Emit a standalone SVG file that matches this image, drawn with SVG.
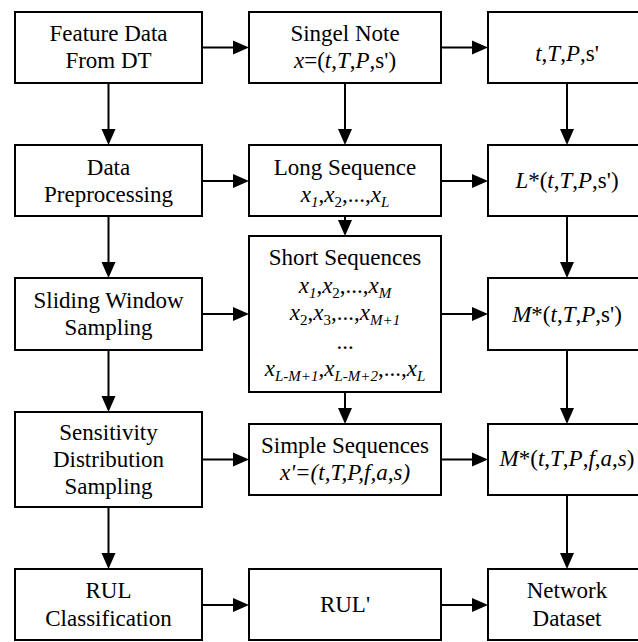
<svg xmlns="http://www.w3.org/2000/svg" width="638" height="642" viewBox="0 0 638 642" font-family="Liberation Serif, serif" font-size="23">
  <style>
    rect { fill: #fff; stroke: #000; stroke-width: 2; }
    .i { font-style: italic; }
    .sub { font-size: 15px; }
    .conn { stroke: #000; stroke-width: 2; }
    .head { fill: #000; }
  </style>
  <rect x="0" y="0" width="638" height="642" style="stroke:none"/>

  <!-- left column -->
  <g id="feature-data" font-family="Liberation Serif" text-anchor="middle">
    <rect x="15" y="12" width="187" height="71"/>
    <text x="108.5" y="41" font-family="Liberation Serif" font-size="23">Feature Data</text>
    <text x="108.5" y="68" font-family="Liberation Serif" font-size="23">From DT</text>
  </g>
  <g id="data-preprocessing" font-family="Liberation Serif" text-anchor="middle">
    <rect x="15" y="145" width="187" height="71"/>
    <text x="108.5" y="175" font-family="Liberation Serif" font-size="23">Data</text>
    <text x="108.5" y="202" font-family="Liberation Serif" font-size="23">Preprocessing</text>
  </g>
  <g id="sliding-window" font-family="Liberation Serif" text-anchor="middle">
    <rect x="15" y="278" width="187" height="72"/>
    <text x="108.5" y="308" font-family="Liberation Serif" font-size="23">Sliding Window</text>
    <text x="108.5" y="335" font-family="Liberation Serif" font-size="23">Sampling</text>
  </g>
  <g id="sensitivity-sampling" font-family="Liberation Serif" text-anchor="middle">
    <rect x="15" y="412" width="187" height="95"/>
    <text x="108.5" y="440" font-family="Liberation Serif" font-size="23">Sensitivity</text>
    <text x="108.5" y="467" font-family="Liberation Serif" font-size="23">Distribution</text>
    <text x="108.5" y="494" font-family="Liberation Serif" font-size="23">Sampling</text>
  </g>
  <g id="rul-classification" font-family="Liberation Serif" text-anchor="middle">
    <rect x="15" y="569" width="187" height="71"/>
    <text x="108.5" y="598" font-family="Liberation Serif" font-size="23">RUL</text>
    <text x="108.5" y="626" font-family="Liberation Serif" font-size="23">Classification</text>
  </g>

  <!-- middle column -->
  <g id="single-note" font-family="Liberation Serif" text-anchor="middle">
    <rect x="249" y="12" width="192" height="71"/>
    <text x="345" y="41" font-family="Liberation Serif" font-size="23">Singel Note</text>
    <text x="345" y="68" font-family="Liberation Serif" font-size="23"><tspan class="i">x</tspan>=(<tspan class="i">t</tspan>,<tspan class="i">T</tspan>,<tspan class="i">P</tspan>,s')</text>
  </g>
  <g id="long-sequence" font-family="Liberation Serif" text-anchor="middle">
    <rect x="249" y="145" width="192" height="71"/>
    <text x="345" y="175" font-family="Liberation Serif" font-size="23">Long Sequence</text>
    <text x="345" y="202" font-family="Liberation Serif" font-size="23"><tspan class="i">x</tspan><tspan class="i sub" dy="5">1</tspan><tspan dy="-5">,</tspan><tspan class="i">x</tspan><tspan class="sub" dy="5">2</tspan><tspan dy="-5">,...,</tspan><tspan class="i">x</tspan><tspan class="i sub" dy="5">L</tspan></text>
  </g>
  <g id="short-sequences" font-family="Liberation Serif" text-anchor="middle">
    <rect x="249" y="236" width="192" height="156"/>
    <text x="345" y="265" font-family="Liberation Serif" font-size="23">Short Sequences</text>
    <text x="345" y="293" font-family="Liberation Serif" font-size="23"><tspan class="i">x</tspan><tspan class="i sub" dy="5">1</tspan><tspan dy="-5">,</tspan><tspan class="i">x</tspan><tspan class="sub" dy="5">2</tspan><tspan dy="-5">,...,</tspan><tspan class="i">x</tspan><tspan class="i sub" dy="5">M</tspan></text>
    <text x="345" y="320" font-family="Liberation Serif" font-size="23"><tspan class="i">x</tspan><tspan class="sub" dy="5">2</tspan><tspan dy="-5">,</tspan><tspan class="i">x</tspan><tspan class="sub" dy="5">3</tspan><tspan dy="-5">,...,</tspan><tspan class="i">x</tspan><tspan class="i sub" dy="5">M+1</tspan></text>
    <text x="345" y="349" font-family="Liberation Serif" font-size="23">...</text>
    <text x="345" y="376" font-family="Liberation Serif" font-size="23"><tspan class="i">x</tspan><tspan class="i sub" dy="5">L-M+1</tspan><tspan dy="-5">,</tspan><tspan class="i">x</tspan><tspan class="i sub" dy="5">L-M+2</tspan><tspan dy="-5">,...,</tspan><tspan class="i">x</tspan><tspan class="i sub" dy="5">L</tspan></text>
  </g>
  <g id="simple-sequences" font-family="Liberation Serif" text-anchor="middle">
    <rect x="249" y="424" width="192" height="71"/>
    <text x="345" y="453" font-family="Liberation Serif" font-size="23">Simple Sequences</text>
    <text x="345" y="480" class="i" font-family="Liberation Serif" font-size="23">x'=(t,T,P,f,a,s)</text>
  </g>
  <g id="rul-prime" font-family="Liberation Serif" text-anchor="middle">
    <rect x="249" y="569" width="192" height="71"/>
    <text x="345" y="612" font-family="Liberation Serif" font-size="23">RUL'</text>
  </g>

  <!-- right column, running past the right edge -->
  <g id="note-fields" font-family="Liberation Serif" text-anchor="middle">
    <rect x="488" y="12" width="160" height="71"/>
    <text x="567" y="61" font-family="Liberation Serif" font-size="23"><tspan class="i">t</tspan>,<tspan class="i">T</tspan>,<tspan class="i">P</tspan>,s'</text>
  </g>
  <g id="long-fields" font-family="Liberation Serif" text-anchor="middle">
    <rect x="488" y="145" width="160" height="71"/>
    <text x="567" y="188" font-family="Liberation Serif" font-size="23"><tspan class="i">L</tspan>*(<tspan class="i">t</tspan>,<tspan class="i">T</tspan>,<tspan class="i">P</tspan>,s')</text>
  </g>
  <g id="short-fields" font-family="Liberation Serif" text-anchor="middle">
    <rect x="488" y="278" width="160" height="72"/>
    <text x="567" y="322" font-family="Liberation Serif" font-size="23"><tspan class="i">M</tspan>*(<tspan class="i">t</tspan>,<tspan class="i">T</tspan>,<tspan class="i">P</tspan>,s')</text>
  </g>
  <g id="simple-fields" font-family="Liberation Serif" text-anchor="middle">
    <rect x="488" y="424" width="160" height="71"/>
    <text x="567" y="466" font-family="Liberation Serif" font-size="23"><tspan class="i">M</tspan>*(<tspan class="i">t</tspan>,<tspan class="i">T</tspan>,<tspan class="i">P</tspan>,<tspan class="i">f</tspan>,<tspan class="i">a</tspan>,<tspan class="i">s</tspan>)</text>
  </g>
  <g id="network-dataset" font-family="Liberation Serif" text-anchor="middle">
    <rect x="488" y="569" width="160" height="71"/>
    <text x="567" y="598" font-family="Liberation Serif" font-size="23">Network</text>
    <text x="567" y="626" font-family="Liberation Serif" font-size="23">Dataset</text>
  </g>

  <!-- connectors: shafts plus filled triangular heads -->
  <g id="connectors">
    <path class="conn" d="M202,47.5H234 M202,181H234 M202,314H234 M202,459.5H234 M202,605H234
                          M441,47.5H473 M441,181H473 M441,314H473 M441,459.5H473 M441,605H473
                          M108.5,83V130 M108.5,216V263 M108.5,350V397 M108.5,507V554
                          M345,83V130 M345,216V221 M345,392V409
                          M567,83V130 M567,216V263 M567,350V409 M567,495V554"/>
    <path class="head" d="M249,47.5l-16,-7v14z M249,181l-16,-7v14z M249,314l-16,-7v14z M249,459.5l-16,-7v14z M249,605l-16,-7v14z
                          M488,47.5l-16,-7v14z M488,181l-16,-7v14z M488,314l-16,-7v14z M488,459.5l-16,-7v14z M488,605l-16,-7v14z
                          M108.5,145l-7,-16h14z M108.5,278l-7,-16h14z M108.5,412l-7,-16h14z M108.5,569l-7,-16h14z
                          M345,145l-7,-16h14z M345,236l-7,-16h14z M345,424l-7,-16h14z
                          M567,145l-7,-16h14z M567,278l-7,-16h14z M567,424l-7,-16h14z M567,569l-7,-16h14z"/>
  </g>
</svg>
